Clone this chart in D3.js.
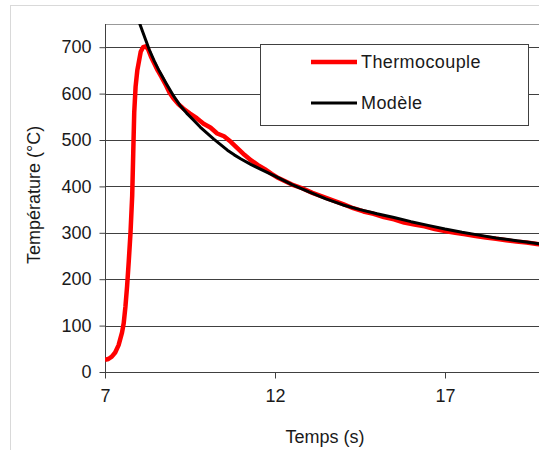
<!DOCTYPE html>
<html><head><meta charset="utf-8">
<script src="https://cdn.jsdelivr.net/npm/d3@7"></script>
<style>
html,body{margin:0;padding:0;background:#fff;}
svg{display:block;}
text{font-family:"Liberation Sans",Arial,sans-serif;fill:#1a1a1a;}
</style></head>
<body>
<script>
// ---- data ----
const yTicks = [0,100,200,300,400,500,600,700];
const xTicks = [7,12,17];
const seriesNames = ["Thermocouple","Modèle"];
const thermoTime = [7.0,7.1,7.2,7.3,7.4,7.5,7.55,7.6,7.65,7.7,7.75,7.8,7.83,7.86,7.9,7.95,8.0,8.05,8.12,8.2,8.27,8.35,8.45,8.55,8.66,8.8,8.9,9.0,9.15,9.3,9.5,9.7,9.9,10.1,10.3,10.5,10.7,10.9,11.1,11.3,11.5,11.7,11.9,12.1,12.3,12.5,12.8,13.1,13.4,13.7,14.0,14.3,14.6,14.9,15.2,15.5,15.8,16.1,16.4,16.7,17.0,17.3,17.6,17.9,18.2,18.5,18.8,19.1,19.4,19.7,20.0];
const thermoTemp = [26,28,33,42,58,85,105,140,185,240,300,380,470,560,615,650,670,690,700,702,695,680,665,650,636,617,602,591,578,568,557,547,535,527,514,508,496,482,468,456,446,437,427,418,411,404,396,386,378,370,362,353,346,341,334,329,322,318,314,308,304,300,297,293,290,287,284,281,279,276,273];
const modelTime = [8.0,8.1,8.2,8.3,8.45,8.6,8.8,9.0,9.2,9.4,9.6,9.8,10.0,10.2,10.4,10.6,10.8,11.0,11.3,11.6,12.0,12.5,13.0,13.5,14.0,14.5,15.0,15.5,16.0,16.5,17.0,17.5,18.0,18.5,19.0,19.5,20.0];
const modelTemp = [755,735,715,695,670,648,622,597,575,558,543,528,515,502,490,478,468,459,447,436,422,404,388,373,360,350,341,333,324,316,308,301,295,289,284,279,274];

// ---- layout ----
const W = 539, H = 450;
const svg = d3.select("body").append("svg").attr("width", W).attr("height", H);

const x = d3.scaleLinear().domain([7, 20]).range([105, 547]);
const y = d3.scaleLinear().domain([0, 750]).range([372, 24]);

// outer frame
svg.append("rect").attr("x", 10.5).attr("y", 5.5).attr("width", 600).attr("height", 500)
  .attr("fill", "none").attr("stroke", "#d9d9d9");

// top border of plot
svg.append("line").attr("x1", x(7)).attr("x2", W).attr("y1", y(750)+0.5).attr("y2", y(750)+0.5)
  .attr("stroke", "#999");

// gridlines
svg.append("g").selectAll("line").data(yTicks.filter(d => d > 0)).join("line")
  .attr("x1", x(7)).attr("x2", W)
  .attr("y1", d => Math.round(y(d)) + 0.5).attr("y2", d => Math.round(y(d)) + 0.5)
  .attr("stroke", "#404040");

// y axis
const yAxis = d3.axisLeft(y).tickValues(yTicks).tickSize(6).tickPadding(8).tickFormat(d3.format("d"));
const gy = svg.append("g").attr("transform", `translate(${x(7)+0.5},0)`).call(yAxis);
gy.select(".domain").attr("d", `M0,${y(750)}V${y(0)+6}`).attr("stroke", "#404040");
gy.selectAll(".tick line").attr("stroke", "#404040");
gy.selectAll(".tick text").style("font-size", "18px").attr("fill", "#1a1a1a")
  .style("font-family", '"Liberation Sans",Arial,sans-serif');

// x axis
const xAxis = d3.axisBottom(x).tickValues(xTicks).tickSize(6).tickPadding(11).tickFormat(d3.format("d"));
const gx = svg.append("g").attr("transform", `translate(0,${Math.round(y(0))+0.5})`).call(xAxis);
gx.select(".domain").attr("d", `M${x(7)},0H${W}`).attr("stroke", "#404040");
gx.selectAll(".tick line").attr("stroke", "#404040");
gx.selectAll(".tick text").style("font-size", "18px").attr("fill", "#1a1a1a")
  .style("font-family", '"Liberation Sans",Arial,sans-serif');

// clip
svg.append("clipPath").attr("id", "clip").append("rect")
  .attr("x", x(7)).attr("y", y(750)).attr("width", W).attr("height", y(0) - y(750));

const line = d3.line().x(d => x(d[0])).y(d => y(d[1]));
const thermo = thermoTime.map((t, i) => [t, thermoTemp[i]]);
const model = modelTime.map((t, i) => [t, modelTemp[i]]);

const gl = svg.append("g").attr("clip-path", "url(#clip)");
gl.append("path").datum(thermo).attr("d", line).attr("fill", "none")
  .attr("stroke", "#ff0000").attr("stroke-width", 4.5).attr("stroke-linejoin", "round");
gl.append("path").datum(model).attr("d", line).attr("fill", "none")
  .attr("stroke", "#000").attr("stroke-width", 3).attr("stroke-linejoin", "round");

// legend
const lg = svg.append("g");
lg.append("rect").attr("x", 260.5).attr("y", 44.5).attr("width", 268).attr("height", 81)
  .attr("fill", "#fff").attr("stroke", "#404040");
const colors = ["#ff0000", "#000"];
const widths = [4.5, 3];
const ly = [62, 103];
seriesNames.forEach((n, i) => {
  lg.append("line").attr("x1", 311).attr("x2", 357).attr("y1", ly[i]).attr("y2", ly[i])
    .attr("stroke", colors[i]).attr("stroke-width", widths[i]);
  lg.append("text").attr("x", 361).attr("y", ly[i] + 6).style("font-size", "18px")
    .style("letter-spacing", "0.4px").text(n);
});

// axis titles
svg.append("text").attr("x", 325).attr("y", 443).attr("text-anchor", "middle")
  .style("font-size", "18px").text("Temps (s)");
svg.append("text").attr("transform", "translate(40,195) rotate(-90)").attr("text-anchor", "middle")
  .style("font-size", "18px").text("Température (°C)");
</script>
</body></html>
